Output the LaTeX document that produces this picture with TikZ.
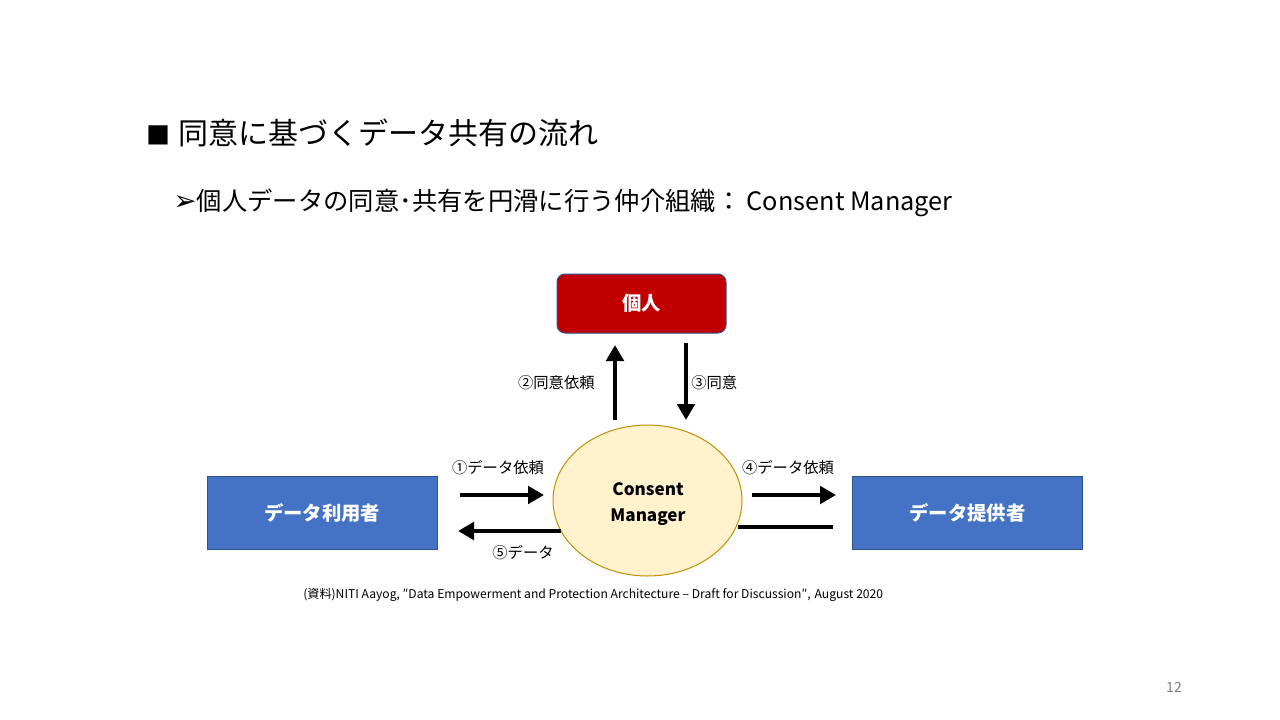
\documentclass[tikz,border=0pt]{standalone}
\usepackage{fontspec}
\setmainfont{Noto Sans CJK JP}
\newfontfamily\symfont{DejaVu Sans}
\usetikzlibrary{arrows.meta,shapes.geometric}
\definecolor{boxred}{HTML}{C00000}
\definecolor{boxblue}{HTML}{4472C4}
\definecolor{edgeblue}{HTML}{2F528F}
\definecolor{cmfill}{HTML}{FFF2CC}
\definecolor{cmedge}{HTML}{BF9000}
\tikzset{
  party/.style={draw=edgeblue, line width=0.75pt, fill=boxblue, text=white,
    font=\bfseries\fontsize{14.5}{17}\selectfont,
    minimum width=172.5pt, minimum height=54.75pt, inner sep=0pt},
  person/.style={party, fill=boxred, rounded corners=6pt,
    minimum width=126.75pt, minimum height=44.25pt},
  flow/.style={line width=3pt, -{Triangle[length=12pt,width=13pt]}},
  flowlabel/.style={font=\fontsize{11.5}{13}\selectfont, inner sep=0pt}
}
\begin{document}
\begin{tikzpicture}[x=0.75pt,y=-0.75pt]
\useasboundingbox[fill=white] (0,0) rectangle (1280,720);
\path
(146,133) node[anchor=west, inner sep=0pt, font=\fontsize{22.5}{26}\selectfont] (title)
  {{\fontsize{18}{20}\selectfont■}\hspace{6pt}同意に基づくデータ共有の流れ}
(173,203) node[anchor=west, inner sep=0pt, font=\fontsize{19}{22}\selectfont] (sub)
  {{\symfont\fontsize{21}{22}\selectfont ➢}個人データの同意･共有を円滑に行う仲介組織：\hspace{4pt}Consent Manager}
(641.5,303.5) node[person] (kojin) {個人}
(322,512.5) node[party] (user) {データ利用者}
(967.5,512.5) node[party] (provider) {データ提供者}
(647.5,500.5) node[ellipse, draw=cmedge, line width=0.75pt, fill=cmfill,
  minimum width=141.75pt, minimum height=113.25pt, inner sep=0pt] (cm) {}
(648,504) node[align=center, inner sep=0pt,
  font=\bfseries\fontsize{12.8}{20}\selectfont] (cmtext) {Consent\\Manager};
%% free ends of the flows
\path
(615,420) coordinate (req-s) (615,345) coordinate (req-e)
(686,343) coordinate (ok-s)  (686,420) coordinate (ok-e)
(460,495) coordinate (in-s)  (544,495) coordinate (in-e)
(752,495) coordinate (out-s) (836,495) coordinate (out-e)
(458,531) coordinate (back-e)
(833,527) coordinate (ret-s) (738,527) coordinate (ret-e);
\draw[flow] (req-s) -- (req-e);
\draw[flow] (ok-s) -- (ok-e);
\draw[flow] (in-s) -- (in-e);
\draw[flow] (out-s) -- (out-e);
\draw[flow] (cm.west |- back-e) ++(8,0) -- (back-e);
\draw[line width=3pt] (ret-s) -- (ret-e);
\path
(595,383) node[flowlabel, anchor=east] (l2) {②同意依頼}
(691,383) node[flowlabel, anchor=west] (l3) {③同意}
(498,468) node[flowlabel] (l1) {①データ依頼}
(788,468) node[flowlabel] (l4) {④データ依頼}
(523,553) node[flowlabel] (l5) {⑤データ}
(303,595) node[anchor=west, inner sep=0pt, font=\fontsize{9.1}{11}\selectfont] (src)
  {(資料)NITI Aayog, ″Data Empowerment and Protection Architecture – Draft for Discussion″,\hspace{3pt}August 2020}
(1174,687) node[inner sep=0pt, text=gray, font=\fontsize{10.5}{12}\selectfont] (page) {12};
\end{tikzpicture}
\end{document}
